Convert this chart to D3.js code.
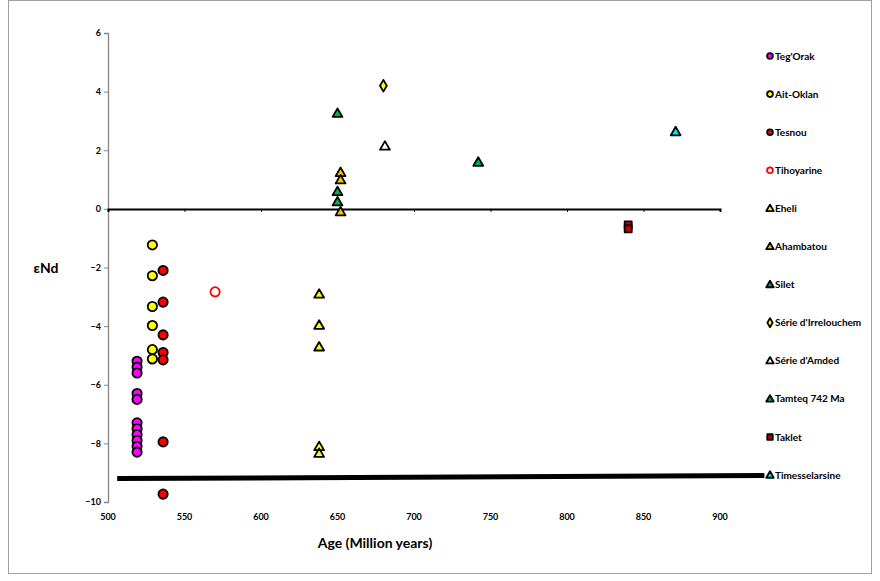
<!DOCTYPE html>
<html><head><meta charset="utf-8">
<script src="https://cdn.jsdelivr.net/npm/d3@7/dist/d3.min.js"></script>
<style>body{margin:0;background:#fff;} svg{display:block;} text{font-family:Lato,"Open Sans",sans-serif;font-weight:bold;}</style>
</head><body>
<svg id="c" width="880" height="581"></svg>
<script>
const seriesNames = ["Teg'Orak","Ait-Oklan","Tesnou","Tihoyarine","Eheli","Ahambatou","Silet","Série d'Irrelouchem","Série d'Amded","Tamteq 742 Ma","Taklet","Timesselarsine"];
const seriesShapes = ["circle","circle","circle","circle","triangle","triangle","triangle","diamond","triangle","triangle","square","triangle"];
const seriesFill = ["#ff00ff","#ffff00","#ff0000","#ffffff","#ffff00","#ffc000","#00b050","#ffff00","#ffffff","#00b050","#c00000","#00e5e5"];
const seriesStroke = ["#000","#000","#000","#ff0000","#000","#000","#000","#000","#000","#000","#000","#000"];
const tegOrakX = [519,519,519,519,519,519,519,519,519,519,519];
const tegOrakY = [-5.2,-5.4,-5.6,-6.3,-6.5,-7.3,-7.5,-7.7,-7.9,-8.1,-8.3];
const aitOklanX = [529,529,529,529,529,529];
const aitOklanY = [-1.23,-2.28,-3.33,-3.98,-4.8,-5.12];
const tesnouX = [536,536,536,536,536,536,536];
const tesnouY = [-2.1,-3.18,-4.3,-4.9,-5.15,-7.95,-9.73];
const tihoyarineX = [570];
const tihoyarineY = [-2.83];
const eheliX = [638,638,638,638,638];
const eheliY = [-2.9,-3.96,-4.7,-8.1,-8.33];
const ahambatouX = [652,652,652];
const ahambatouY = [1.25,1.0,-0.09];
const siletX = [650,650,650];
const siletY = [3.27,0.6,0.25];
const irrelouchemX = [680];
const irrelouchemY = [4.2];
const amdedX = [681];
const amdedY = [2.15];
const tamteqX = [742];
const tamteqY = [1.6];
const takletX = [840,840];
const takletY = [-0.55,-0.68];
const timesselarsineX = [871];
const timesselarsineY = [2.64];
const refLineX = [506,929];
const refLineY = [-9.2,-9.1];
const xTicks = [500,550,600,650,700,750,800,850,900];
const yTicks = [6,4,2,0,-2,-4,-6,-8,-10];

const seriesX = [tegOrakX,aitOklanX,tesnouX,tihoyarineX,eheliX,ahambatouX,siletX,irrelouchemX,amdedX,tamteqX,takletX,timesselarsineX];
const seriesY = [tegOrakY,aitOklanY,tesnouY,tihoyarineY,eheliY,ahambatouY,siletY,irrelouchemY,amdedY,tamteqY,takletY,timesselarsineY];

const svg = d3.select("#c");
svg.append("rect").attr("x",8.5).attr("y",0.5).attr("width",863).attr("height",573).attr("fill","none").attr("stroke","#a0a0a0");

const x = d3.scaleLinear().domain([500,900]).range([108,720]);
const y = d3.scaleLinear().domain([-10,6]).range([502,33]);

// Y axis
const yAxis = d3.axisLeft(y).tickValues(yTicks).tickSize(4).tickFormat(d3.format("d"));
const gy = svg.append("g").attr("transform","translate(108,0)").call(yAxis);
gy.select(".domain").attr("stroke","#868686").attr("stroke-width",1.3);
gy.selectAll(".tick line").attr("stroke","#868686");
gy.selectAll(".tick text").attr("font-size",9).attr("fill","#000").attr("x",-7).style("font-family","Lato,sans-serif").style("font-weight","bold");

// X axis line at y=0
const xAxis = d3.axisBottom(x).tickValues(xTicks).tickSize(3).tickFormat("");
const gx = svg.append("g").attr("transform",`translate(0,${y(0)})`).call(xAxis);
gx.select(".domain").attr("stroke","#000").attr("stroke-width",2);
gx.selectAll(".tick line").attr("stroke","#000");
// X tick labels at bottom
svg.append("g").selectAll("text").data(xTicks).join("text")
  .attr("x",d=>x(d)).attr("y",520).attr("text-anchor","middle").attr("font-size",9).text(d=>d);

// Axis titles
svg.append("text").attr("x",375).attr("y",548).attr("text-anchor","middle").attr("font-size",14).text("Age (Million years)");
svg.append("text").attr("x",46).attr("y",273).attr("text-anchor","middle").attr("font-size",14).text("εNd");

// Thick line
svg.append("path").datum(refLineX.map((v,i)=>[v,refLineY[i]]))
  .attr("d",d3.line().x(d=>x(d[0])).y(d=>y(d[1]))).attr("stroke","#000").attr("stroke-width",5).attr("fill","none");

const sym = {circle:d3.symbolCircle, triangle:d3.symbolTriangle, diamond:d3.symbolDiamond, square:d3.symbolSquare};
const size = {circle:68, triangle:42, diamond:40, square:50};

seriesNames.forEach((n,i)=>{
  const pts = seriesX[i].map((v,j)=>[v,seriesY[i][j]]);
  svg.append("g").selectAll("path").data(pts).join("path")
    .attr("transform",d=>`translate(${x(d[0])},${y(d[1]) + (seriesShapes[i]==="triangle"?1:0)})`)
    .attr("d",d3.symbol().type(sym[seriesShapes[i]]).size(size[seriesShapes[i]]))
    .attr("fill",seriesFill[i]).attr("stroke",seriesStroke[i]).attr("stroke-width",1.8).attr("stroke-linejoin","round");
});

// Legend
const lg = svg.append("g");
seriesNames.forEach((n,i)=>{
  const ly = 56 + i*38.1;
  const s = seriesShapes[i];
  lg.append("path").attr("transform",`translate(770,${ly + (s==="triangle"?0.5:0)})`)
    .attr("d",d3.symbol().type(sym[s]).size(s==="circle"?26:(s==="square"?30:24)))
    .attr("fill",seriesFill[i]).attr("stroke",seriesStroke[i]).attr("stroke-width",1.8).attr("stroke-linejoin","round");
  lg.append("text").attr("x",775).attr("y",ly+3.5).attr("font-size",10).text(n);
});
</script>
</body></html>
